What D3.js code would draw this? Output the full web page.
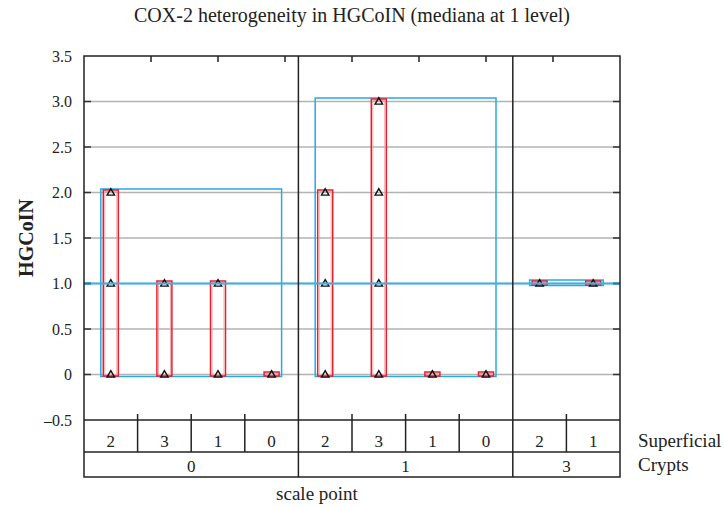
<!doctype html>
<html lang="en">
<head>
  <meta charset="utf-8">
  <title>COX-2 heterogeneity in HGCoIN</title>
  <style>
    body { margin: 0; background: #fff; }
    svg text { font-family: 'Liberation Serif', 'DejaVu Serif', serif; fill: #222; }
  </style>
</head>
<body>
  <script src="https://cdn.jsdelivr.net/npm/d3@7"></script>
  <script>
    // one entry per Superficial cell, nested under Crypts
    var crypts = ['0', '0', '0', '0', '1', '1', '1', '1', '3', '3']
    var superficial = ['2', '3', '1', '0', '2', '3', '1', '0', '2', '1']
    var points = [[0, 1, 2], [0, 1], [0, 1], [0], [0, 1, 2], [0, 1, 2, 3], [0], [0], [1], [1]]
    var yTicks = [-0.5, 0, 0.5, 1.0, 1.5, 2.0, 2.5, 3.0, 3.5]

    var plot = { left: 84, right: 620, top: 56, bottom: 420 }
    var row1 = 452, row2 = 477

    var svg = d3.select('body').append('svg')
      .attr('width', 724)
      .attr('height', 508)
      .attr('font-family', 'Liberation Serif')

    var x = d3.scaleBand()
      .domain(d3.range(crypts.length))
      .range([plot.left, plot.right])

    var y = d3.scaleLinear()
      .domain([-0.5, 3.5])
      .range([plot.bottom, plot.top])

    var fmt = function(d) {
      if (d === 0) return '0'
      return d < 0 ? '\u2013' + d3.format('.1f')(-d) : d3.format('.1f')(d)
    }

    // grid
    var inner = yTicks.filter(function(d) { return d > -0.5 && d < 3.5 })
    svg.append('g').selectAll('line')
      .data(inner)
      .enter().append('line')
        .attr('x1', plot.left).attr('x2', plot.right)
        .attr('y1', function(d) { return y(d) }).attr('y2', function(d) { return y(d) })
        .style('stroke', '#b3b3b3')
        .style('stroke-width', 1.5)

    // y axis labels and inward ticks
    var yAxis = d3.axisLeft(y).tickValues(yTicks).tickFormat(fmt).tickSize(0).tickPadding(12)
    var ya = svg.append('g')
      .attr('transform', 'translate(' + plot.left + ',0)')
      .call(yAxis)
    ya.attr('font-family', 'Liberation Serif')
    ya.select('.domain').remove()
    ya.selectAll('text').style('font-size', '16px').attr('fill', '#222')

    ;[plot.left, plot.right - 7].forEach(function(x0) {
      svg.append('g').selectAll('line')
        .data(inner)
        .enter().append('line')
          .attr('x1', x0).attr('x2', x0 + 7)
          .attr('y1', function(d) { return y(d) }).attr('y2', function(d) { return y(d) })
          .style('stroke', '#333')
          .style('stroke-width', 1.5)
    })

    // groups
    var groups = d3.groups(d3.range(crypts.length), function(i) { return crypts[i] })

    // blue group range boxes
    svg.append('g').selectAll('rect')
      .data(groups)
      .enter().append('rect')
        .attr('x', function(g) { return x(g[1][0]) + x.bandwidth() / 2 - 10 })
        .attr('width', function(g) { return x(g[1][g[1].length - 1]) - x(g[1][0]) + 20 })
        .attr('y', function(g) { return y(d3.max(g[1], function(i) { return d3.max(points[i]) })) - 3.5 })
        .attr('height', function(g) {
          var lo = d3.min(g[1], function(i) { return d3.min(points[i]) })
          var hi = d3.max(g[1], function(i) { return d3.max(points[i]) })
          return y(lo) - y(hi) + 5.5
        })
        .style('fill', 'none')
        .style('stroke', '#2aa9e3')
        .style('stroke-width', 1.5)

    // red cell range boxes
    var cell = svg.append('g').selectAll('g')
      .data(points)
      .enter().append('g')

    cell.append('rect')
      .attr('x', function(d, i) { return x(i) + x.bandwidth() / 2 - 7.5 })
      .attr('width', 15)
      .attr('y', function(d) { return y(d3.max(d)) - 2.5 })
      .attr('height', function(d) { return y(d3.min(d)) - y(d3.max(d)) + 4 })
      .style('fill', 'none')
      .style('stroke', '#e3202b')
      .style('stroke-width', 1.5)

    cell.append('rect')
      .attr('x', function(d, i) { return x(i) + x.bandwidth() / 2 - 6 })
      .attr('width', 12)
      .attr('y', function(d) { return y(d3.max(d)) - 1 })
      .attr('height', function(d) { return Math.max(1, y(d3.min(d)) - y(d3.max(d)) + 1) })
      .style('fill', 'none')
      .style('stroke', '#f4a3aa')
      .style('stroke-width', 1)

    // overall median line
    var median = d3.median(d3.merge(points))
    svg.append('line')
      .attr('x1', plot.left).attr('x2', plot.right)
      .attr('y1', y(median)).attr('y2', y(median))
      .style('stroke', '#3db1e6')
      .style('stroke-width', 2)
    ;[plot.left, plot.right - 7].forEach(function(x0) {
      svg.append('line')
        .attr('x1', x0).attr('x2', x0 + 7)
        .attr('y1', y(median)).attr('y2', y(median))
        .style('stroke', '#1f7fb0')
        .style('stroke-width', 2)
    })

    // observation markers
    var tri = d3.symbol().type(d3.symbolTriangle).size(24)
    cell.each(function(d, i) {
      d3.select(this).selectAll('path')
        .data(d)
        .enter().append('path')
          .attr('d', tri)
          .attr('transform', function(v) { return 'translate(' + (x(i) + x.bandwidth() / 2) + ',' + (y(v) + 0.5) + ')' })
          .style('fill', 'none')
          .style('stroke', '#111')
          .style('stroke-width', 1.4)
    })

    // frame and x label rows
    svg.append('rect')
      .attr('x', plot.left).attr('y', plot.top)
      .attr('width', plot.right - plot.left).attr('height', row2 - plot.top)
      .style('fill', 'none')
      .style('stroke', '#222')
      .style('stroke-width', 1.5)

    ;[plot.bottom, row1].forEach(function(yy) {
      svg.append('line')
        .attr('x1', plot.left).attr('x2', plot.right)
        .attr('y1', yy).attr('y2', yy)
        .style('stroke', '#222')
        .style('stroke-width', 1.5)
    })

    // top ticks
    var xTop = d3.scaleLinear().domain([0, 8]).range([plot.left, plot.right])
    svg.append('g').selectAll('line')
      .data(d3.range(1, 8))
      .enter().append('line')
        .attr('x1', function(d) { return xTop(d) }).attr('x2', function(d) { return xTop(d) })
        .attr('y1', plot.top).attr('y2', plot.top + 6)
        .style('stroke', '#222')
        .style('stroke-width', 1.5)

    // cell dividers (within groups) and group dividers
    var cellDiv = d3.range(1, crypts.length).filter(function(i) { return crypts[i] === crypts[i - 1] })
    svg.append('g').selectAll('line')
      .data(cellDiv)
      .enter().append('line')
        .attr('x1', function(i) { return x(i) }).attr('x2', function(i) { return x(i) })
        .attr('y1', plot.bottom - 6).attr('y2', row1)
        .style('stroke', '#222')
        .style('stroke-width', 1.5)

    svg.append('g').selectAll('line')
      .data(groups.slice(1))
      .enter().append('line')
        .attr('x1', function(g) { return x(g[1][0]) }).attr('x2', function(g) { return x(g[1][0]) })
        .attr('y1', plot.top).attr('y2', row2)
        .style('stroke', '#222')
        .style('stroke-width', 1.5)

    svg.append('g').selectAll('text')
      .data(superficial)
      .enter().append('text')
        .attr('x', function(d, i) { return x(i) + x.bandwidth() / 2 })
        .attr('y', 447)
        .attr('text-anchor', 'middle')
        .style('font-size', '17px')
        .text(function(d) { return d })

    svg.append('g').selectAll('text')
      .data(groups)
      .enter().append('text')
        .attr('x', function(g) { return (x(g[1][0]) + x(g[1][g[1].length - 1]) + x.bandwidth()) / 2 })
        .attr('y', 472)
        .attr('text-anchor', 'middle')
        .style('font-size', '17px')
        .text(function(g) { return g[0] })

    svg.append('text').attr('x', 638).attr('y', 447).style('font-size', '19px').text('Superficial')
    svg.append('text').attr('x', 638).attr('y', 471).style('font-size', '19px').text('Crypts')

    svg.append('text')
      .attr('x', 317).attr('y', 500)
      .attr('text-anchor', 'middle')
      .style('font-size', '19px')
      .text('scale point')

    svg.append('text')
      .attr('transform', 'translate(33,' + ((plot.top + plot.bottom) / 2) + ') rotate(-90)')
      .attr('text-anchor', 'middle')
      .style('font-size', '20px')
      .style('font-weight', 'bold')
      .text('HGCoIN')

    svg.append('text')
      .attr('x', (plot.left + plot.right) / 2).attr('y', 22)
      .attr('text-anchor', 'middle')
      .style('font-size', '20px')
      .text('COX-2 heterogeneity in HGCoIN (mediana at 1 level)')
  </script>
</body>
</html>
